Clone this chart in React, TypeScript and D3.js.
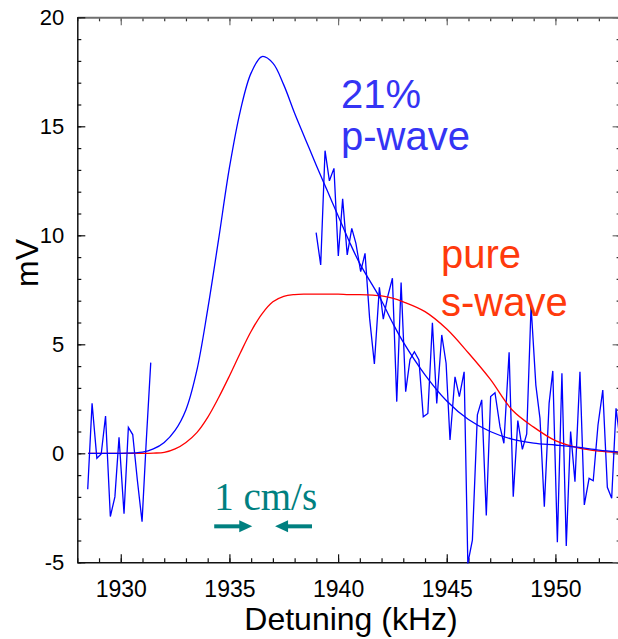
import React, { useRef, useEffect } from "react";
import * as d3 from "d3";

// fitted curves, sampled on a common detuning grid (kHz)
const fitX = [
  1928.5, 1929, 1930, 1931, 1931.5, 1932, 1932.5, 1933, 1933.5, 1934, 1934.5, 1935, 1935.5,
  1936, 1936.5, 1937, 1937.5, 1938, 1938.5, 1939, 1939.5, 1940, 1940.5, 1941, 1942, 1942.5,
  1943, 1944, 1945, 1946, 1947, 1948, 1949, 1950, 1951, 1952, 1953,
];
// 21% p-wave fit (mV)
const pWaveFit = [
  0, 0, 0, 0.05, 0.2, 0.5, 1.05, 2.0, 3.8, 6.6, 9.8, 13.1, 15.7,
  17.45, 18.2, 17.9, 16.9, 15.6, 14.4, 13.2, 12.05, 10.9, 9.75, 8.7, 7.0, 6.0,
  5.1, 3.6, 2.4, 1.55, 1.0, 0.65, 0.47, 0.38, 0.28, 0.15, 0.05,
];
// pure s-wave curve (mV)
const sWaveFit = [
  0, 0, 0, 0, 0.01, 0.04, 0.2, 0.5, 0.95, 1.65, 2.55, 3.55, 4.6,
  5.6, 6.4, 6.95, 7.2, 7.28, 7.3, 7.3, 7.3, 7.3, 7.28, 7.28, 7.22, 7.12,
  6.95, 6.5, 5.7, 4.6, 3.4, 2.0, 1.2, 0.58, 0.26, 0.1, 0.03,
];

// measured signal, left piece
const dataLeftX = [
  1928.48, 1928.68, 1928.9, 1929.1, 1929.3, 1929.52, 1929.73, 1929.92, 1930.15, 1930.35,
  1930.55, 1930.76, 1930.98, 1931.17, 1931.38,
];
const dataLeftY = [
  -1.65, 2.29, -0.23, -0.03, 1.71, -2.9, -2.0, 0.73, -2.77, 1.19,
  0.86, -1.2, -3.14, 0.5, 4.16,
];

// measured signal, right piece
const dataRightX = [
  1938.99, 1939.2, 1939.4, 1939.6, 1939.81, 1940.01, 1940.21, 1940.42, 1940.63, 1940.82,
  1941.04, 1941.24, 1941.45, 1941.67, 1941.9, 1942.08, 1942.28, 1942.5, 1942.7, 1942.9,
  1943.11, 1943.31, 1943.51, 1943.72, 1943.92, 1944.13, 1944.34, 1944.54, 1944.77, 1944.97,
  1945.15, 1945.38, 1945.58, 1945.8, 1945.97, 1946.18, 1946.41, 1946.61, 1946.82, 1947.02,
  1947.22, 1947.45, 1947.63, 1947.87, 1948.06, 1948.27, 1948.48, 1948.68, 1948.88, 1949.1,
  1949.29, 1949.49, 1949.71, 1949.88, 1950.09, 1950.3, 1950.5, 1950.7, 1950.9, 1951.13,
  1951.33, 1951.55, 1951.74, 1951.96, 1952.18, 1952.39, 1952.59, 1952.79, 1953.0,
];
const dataRightY = [
  10.12, 8.64, 13.88, 12.5, 13.07, 9.05, 11.67, 9.1, 10.32, 9.63,
  8.33, 9.17, 6.2, 4.1, 7.61, 6.15, 7.18, 8.03, 2.37, 7.83,
  2.83, 4.31, 4.66, 4.28, 1.68, 1.83, 5.99, 2.29, 5.43, 4.13,
  0.61, 3.51, 2.6, 3.74, -5.05, -3.98, 1.76, 2.45, -2.85, 2.6,
  2.78, 1.22, 0.46, 4.63, -1.99, 1.5, 0.18, 0.89, 6.76, 3.13,
  1.6, -2.45, 2.29, 3.78, -4.08, 3.67, -4.25, 1.0, -1.3, 3.74,
  -2.37, -1.15, -1.26, 1.3, 2.9, -1.56, -2.06, 2.06, 0.4,
];

const xMajor = [1930, 1935, 1940, 1945, 1950];
const yMajor = [-5, 0, 5, 10, 15, 20];

const W = 618;
const H = 639;
const FONT = "'Liberation Sans', Arial, sans-serif";

const Chart = () => {
  const ref = useRef<SVGSVGElement>(null);

  useEffect(() => {
    const svg = d3.select(ref.current);
    svg.selectAll("*").remove();

    const x = d3.scaleLinear().domain([1928, 1953]).range([77.3, 620.6]);
    const y = d3.scaleLinear().domain([-5, 20]).range([562.3, 17.3]);
    const [x0, x1] = x.range();
    const [yb, yt] = y.range();

    const styleAxis = (g, color, width) => {
      g.selectAll("path").attr("stroke", color).attr("stroke-width", width);
      g.selectAll("line").attr("stroke", color).attr("stroke-width", 1.2);
    };

    // minor ticks every unit
    const minX = d3.range(1928, 1954);
    const minY = d3.range(-5, 21);

    const bottomMinor = svg.append("g").attr("transform", `translate(0,${yb})`)
      .call(d3.axisBottom(x).tickValues(minX).tickSize(-4).tickSizeOuter(0).tickFormat(() => ""));
    bottomMinor.select(".domain").remove();
    styleAxis(bottomMinor, "#111", 1.5);
    const topMinor = svg.append("g").attr("transform", `translate(0,${yt})`)
      .call(d3.axisTop(x).tickValues(minX).tickSize(-4).tickSizeOuter(0).tickFormat(() => ""));
    topMinor.select(".domain").remove();
    styleAxis(topMinor, "#333", 1.5);
    const leftMinor = svg.append("g").attr("transform", `translate(${x0},0)`)
      .call(d3.axisLeft(y).tickValues(minY).tickSize(-4).tickSizeOuter(0).tickFormat(() => ""));
    leftMinor.select(".domain").remove();
    styleAxis(leftMinor, "#111", 1.5);
    const rightMinor = svg.append("g").attr("transform", `translate(${x1},0)`)
      .call(d3.axisRight(y).tickValues(minY).tickSize(-4).tickSizeOuter(0).tickFormat(() => ""));
    rightMinor.select(".domain").remove();
    styleAxis(rightMinor, "#333", 1.5);

    // major ticks + labels
    const bottom = svg.append("g").attr("transform", `translate(0,${yb})`)
      .call(d3.axisBottom(x).tickValues(xMajor).tickSize(-8).tickSizeOuter(0).tickPadding(18).tickFormat(d => String(d)));
    styleAxis(bottom, "#111", 1.5);
    bottom.selectAll("text").attr("font-size", 23).attr("font-family", FONT).attr("fill", "#000");

    const top = svg.append("g").attr("transform", `translate(0,${yt})`)
      .call(d3.axisTop(x).tickValues(xMajor).tickSize(-8).tickSizeOuter(0).tickFormat(() => ""));
    styleAxis(top, "#6f6f6f", 2);

    const left = svg.append("g").attr("transform", `translate(${x0},0)`)
      .call(d3.axisLeft(y).tickValues(yMajor).tickSize(-8).tickSizeOuter(0).tickPadding(13).tickFormat(d => String(d)));
    styleAxis(left, "#111", 1.5);
    left.selectAll("text").attr("font-size", 22).attr("font-family", FONT).attr("fill", "#000");

    const right = svg.append("g").attr("transform", `translate(${x1},0)`)
      .call(d3.axisRight(y).tickValues(yMajor).tickSize(-8).tickSizeOuter(0).tickFormat(() => ""));
    styleAxis(right, "#6f6f6f", 2);

    // curves
    const fitLine = (vals) =>
      d3.line<number>().x((d, i) => x(fitX[i])).y(d => y(d)).curve(d3.curveCatmullRom.alpha(0.5))(vals);
    const dataLine = (xs, ys) =>
      d3.line<number>().x((d, i) => x(xs[i])).y(d => y(d))(ys);

    const plot = svg.append("g");
    plot.append("path").attr("d", dataLine(dataLeftX, dataLeftY))
      .attr("fill", "none").attr("stroke", "#0000ff").attr("stroke-width", 1.3);
    plot.append("path").attr("d", dataLine(dataRightX, dataRightY))
      .attr("fill", "none").attr("stroke", "#0000ff").attr("stroke-width", 1.3);
    plot.append("path").attr("d", fitLine(sWaveFit))
      .attr("fill", "none").attr("stroke", "#ff0000").attr("stroke-width", 1.3);
    plot.append("path").attr("d", fitLine(pWaveFit))
      .attr("fill", "none").attr("stroke", "#0000ff").attr("stroke-width", 1.3);

    // axis titles
    svg.append("text").attr("x", 351).attr("y", 630).attr("text-anchor", "middle")
      .attr("font-family", FONT).attr("font-size", 32).text("Detuning (kHz)");
    svg.append("text").attr("transform", "translate(38,263) rotate(-90)").attr("text-anchor", "middle")
      .attr("font-family", FONT).attr("font-size", 32).text("mV");

    // annotations
    const blueTxt = "#3434f4";
    const redTxt = "#ff3a0c";
    svg.append("text").attr("x", 341).attr("y", 108).attr("font-family", FONT)
      .attr("font-size", 40).attr("fill", blueTxt).text("21%");
    svg.append("text").attr("x", 341).attr("y", 150).attr("font-family", FONT)
      .attr("font-size", 40).attr("fill", blueTxt).text("p-wave");
    svg.append("text").attr("x", 441).attr("y", 268).attr("font-family", FONT)
      .attr("font-size", 40).attr("fill", redTxt).text("pure");
    svg.append("text").attr("x", 441).attr("y", 316).attr("font-family", FONT)
      .attr("font-size", 40).attr("fill", redTxt).text("s-wave");

    const teal = "#008080";
    svg.append("text").attr("x", x(1934.3)).attr("y", 510)
      .attr("font-family", "'Liberation Serif', 'Times New Roman', serif")
      .attr("font-size", 39).attr("fill", teal).text("1 cm/s");

    const ay = y(-3.35);
    const arrow = (from, to) => {
      const dir = Math.sign(to - from);
      const headLen = 13;
      const tip = x(to);
      const base = tip - dir * headLen;
      svg.append("line").attr("x1", x(from)).attr("x2", base + dir * 1)
        .attr("y1", ay).attr("y2", ay).attr("stroke", teal).attr("stroke-width", 4);
      svg.append("path").attr("d", `M${tip},${ay} L${base},${ay - 6} L${base},${ay + 6} Z`).attr("fill", teal);
    };
    arrow(1934.3, 1936.05);
    arrow(1938.8, 1937.1);
  }, []);

  return <svg ref={ref} width={W} height={H} style={{ position: "absolute", left: 0, top: 0, background: "#fff" }} />;
};

const App = () => {
  return (
    <div>
      <Chart />
    </div>
  );
};

export default App;
